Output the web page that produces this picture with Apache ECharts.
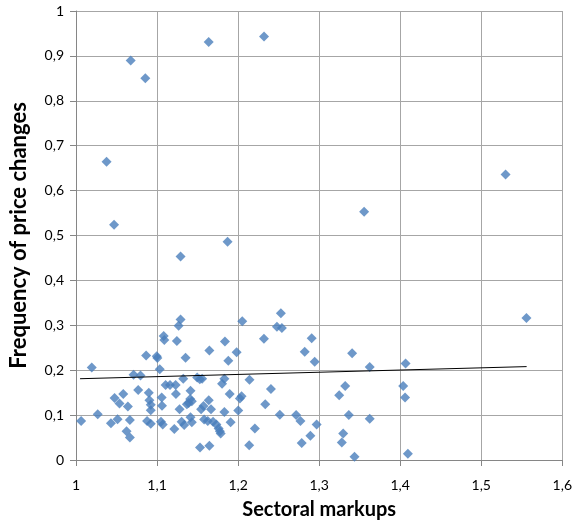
<!DOCTYPE html>
<html><head><meta charset="utf-8">
<script src="https://cdn.jsdelivr.net/npm/echarts@6/dist/echarts.min.js"></script>
<style>html,body{margin:0;padding:0;background:#fff}#c{width:575px;height:525px}</style>
</head><body><div id="c"></div>
<script>
const xTickLabels = ['1','1,1','1,2','1,3','1,4','1,5','1,6'];
const yTickLabels = ['0','0,1','0,2','0,3','0,4','0,5','0,6','0,7','0,8','0,9','1'];
const markups = [
 1.0377,1.047,1.0675,1.0855,1.129,1.1637,1.187,1.232,1.3555,1.530,1.5558,1.4066,1.4037,1.406,1.4095,
 1.0063,1.0194,1.0268,1.0431,1.0476,1.0513,1.0537,1.0583,1.064,1.0624,1.0665,1.0665,1.071,1.0767,1.0796,
 1.0865,1.0898,1.0906,1.0922,1.0922,1.0877,1.0922,1.0996,1.1004,1.1033,1.1057,1.1061,1.1049,1.107,1.1082,
 1.109,1.1106,1.116,1.1229,1.1213,1.1233,1.1245,1.1266,1.129,1.1278,1.1303,1.1335,1.1352,1.1323,1.1413,
 1.1409,1.1429,1.1368,1.1390,1.1413,1.1429,1.1495,1.1528,1.1556,1.153,1.1646,1.1646,1.1638,1.1544,1.1573,
 1.1666,1.1581,1.1626,1.1691,1.1732,1.176,1.1785,1.1775,1.1802,1.1831,1.1831,1.1838,1.1879,1.1896,1.1908,
 1.1982,1.2002,1.2022,1.2043,1.2051,1.2141,1.2207,1.2137,
 1.2528,1.2479,1.254,1.2319,1.2405,1.2335,1.2515,1.2716,1.2769,1.2969,1.2892,1.2785,1.2908,1.2822,1.2945,
 1.3407,1.3624,1.3321,1.3247,1.3366,1.3624,1.3297,1.328,1.3436
];
const priceFreq = [
 0.664,0.524,0.890,0.850,0.453,0.931,0.486,0.943,0.553,0.636,0.316,0.215,0.165,0.139,0.014,
 0.087,0.206,0.102,0.082,0.138,0.091,0.126,0.147,0.119,0.064,0.050,0.089,0.190,0.156,0.188,
 0.233,0.150,0.133,0.123,0.111,0.087,0.081,0.231,0.227,0.202,0.139,0.121,0.085,0.079,0.276,
 0.267,0.167,0.167,0.167,0.069,0.147,0.265,0.299,0.313,0.113,0.085,0.078,0.228,0.181,0.154,
 0.136,0.131,0.124,0.127,0.095,0.084,0.184,0.180,0.181,0.028,0.244,0.032,0.133,0.113,0.120,
 0.113,0.090,0.087,0.085,0.079,0.070,0.059,0.064,0.170,0.181,0.107,0.264,0.221,0.147,0.084,
 0.240,0.110,0.137,0.142,0.309,0.179,0.070,0.033,
 0.327,0.297,0.294,0.270,0.158,0.124,0.101,0.100,0.087,0.079,0.054,0.038,0.271,0.241,0.219,
 0.238,0.207,0.165,0.144,0.100,0.092,0.059,0.039,0.007
];
const trendX = [1.005, 1.556];
const trendY = [0.181, 0.208];

const chart = echarts.init(document.getElementById('c'), null, {renderer:'canvas'});
const font = 'Lato, "Open Sans", sans-serif';
chart.setOption({
  animation:false,
  grid:{left:76,right:10,top:11,bottom:64,containLabel:false},
  xAxis:{
    type:'value',min:1,max:1.6,interval:0.1,
    name:'Sectoral markups',nameLocation:'middle',nameGap:40,
    nameTextStyle:{fontFamily:font,fontWeight:'bold',fontSize:20,color:'#000'},
    axisLine:{show:true,lineStyle:{color:'#868686'}},
    axisTick:{show:true,length:6,lineStyle:{color:'#868686'}},
    axisLabel:{fontFamily:font,fontSize:14,color:'#000',margin:18,
      formatter:v=>xTickLabels[Math.round((v-1)*10)]},
    splitLine:{show:true,lineStyle:{color:'#a6a6a6'}}
  },
  yAxis:{
    type:'value',min:0,max:1,interval:0.1,
    name:'Frequency of price changes',nameLocation:'middle',nameGap:46,
    nameTextStyle:{fontFamily:font,fontWeight:'bold',fontSize:22,color:'#000'},
    axisLine:{show:true,lineStyle:{color:'#868686'}},
    axisTick:{show:true,length:6,lineStyle:{color:'#868686'}},
    axisLabel:{fontFamily:font,fontSize:14,color:'#000',margin:12,
      formatter:v=>yTickLabels[Math.round(v*10)]},
    splitLine:{show:true,lineStyle:{color:'#a6a6a6'}}
  },
  series:[
    {type:'scatter',symbol:'diamond',symbolSize:10,
     itemStyle:{color:'#4a7ebb'},
     data:markups.map((x,i)=>[x,priceFreq[i]])},
    {type:'line',symbol:'none',silent:true,
     lineStyle:{color:'#000',width:1},
     data:trendX.map((x,i)=>[x,trendY[i]])}
  ]
});
</script></body></html>
